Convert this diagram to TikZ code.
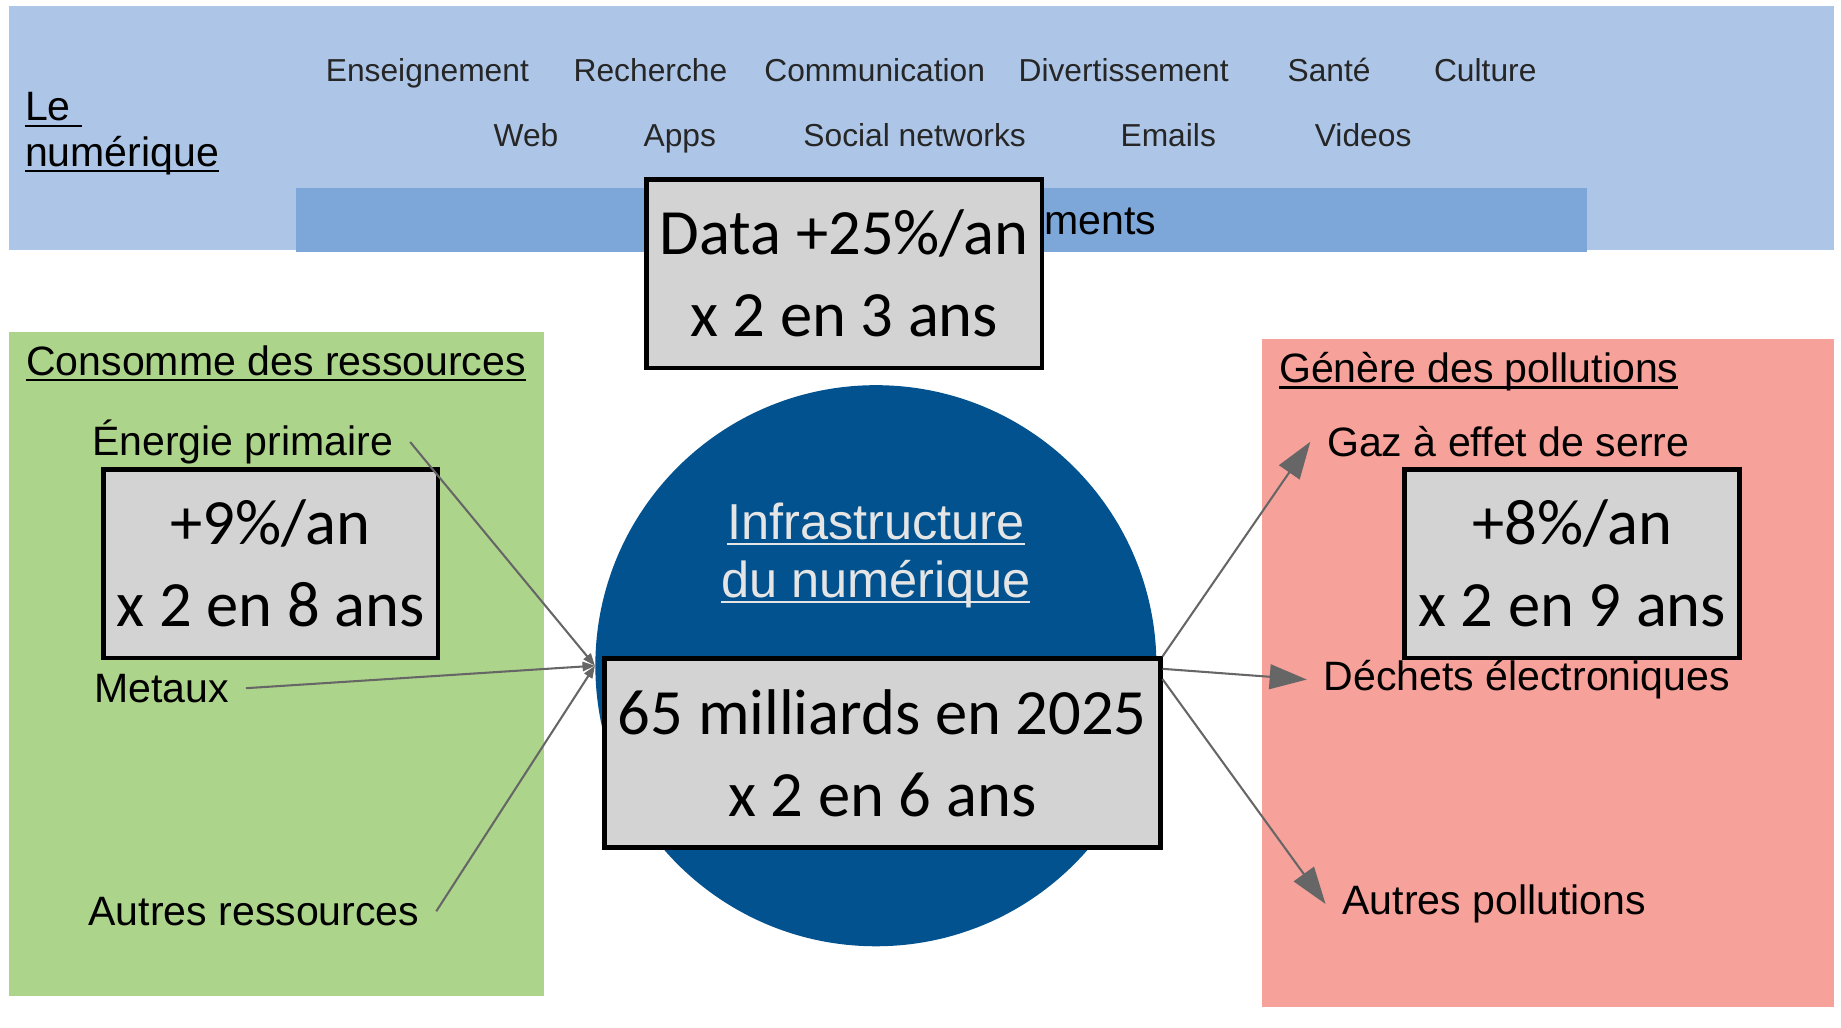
\documentclass[tikz,border=0pt]{standalone}
\usepackage{fontspec}
\setmainfont{Liberation Sans}
\newfontfamily\statfamily{Carlito}
\usepackage{tikz}
\usetikzlibrary{positioning,arrows.meta}

\definecolor{bandblue}{HTML}{ADC6E8}
\definecolor{barblue}{HTML}{7DA7D9}
\definecolor{resgreen}{HTML}{ADD48B}
\definecolor{polred}{HTML}{F6A19A}
\definecolor{infrablue}{HTML}{01528F}
\definecolor{statgray}{HTML}{D3D3D3}
\definecolor{arrowgray}{HTML}{666666}

\newcommand{\usagefont}{\fontsize{15.4}{18}\selectfont}
\newcommand{\itemfont}{\fontsize{19.9}{22.8}\selectfont}
\newcommand{\infrafont}{\fontsize{24.5}{27.9}\selectfont}
\newcommand{\statfont}{\statfamily\fontsize{31.3}{39.8}\selectfont}
% souligne, trait un peu plus epais que \underline
\newsavebox{\undlbox}
\newcommand{\undl}[1]{\sbox{\undlbox}{#1}\rlap{\rule[-2.8pt]{\wd\undlbox}{1pt}}\usebox{\undlbox}}

\begin{document}
\begin{tikzpicture}[x=0.02cm,y=-0.02cm,
    usage/.style={anchor=base,font=\usagefont,text=black!85},
    item/.style={anchor=base west,font=\itemfont,inner xsep=8pt,inner ysep=3pt},
    stat/.style={draw=black,line width=2.3pt,fill=statgray,align=center,
                 font=\statfont,inner xsep=6.5pt,minimum height=91.5pt},
    feed/.style={draw=arrowgray,line width=1pt,-{Triangle[length=6pt,width=4.5pt]}},
    emit/.style={draw=arrowgray,line width=1pt,-{Triangle[length=18pt,width=12pt]}}]

  \useasboundingbox (0,0) rectangle (1568,875);

  % bandeau : usages et services
  \fill[bandblue] (8,5) rectangle (1562,213);
  \fill[barblue] (252,160) rectangle (1352,215);
  \node[item] (le) at (7,103) {\undl{Le\ }};
  \node[item] (num) at (7,142) {\undl{numérique}};

  \node[usage] (ens)  at (364,69) {Enseignement};
  \node[usage] (rech) at (554,69) {Recherche};
  \node[usage] (comm) at (745,69) {Communication};
  \node[usage] (div)  at (957,69) {Divertissement};
  \node[usage] (sant) at (1132,69) {Santé};
  \node[usage] (cult) at (1265,69) {Culture};

  \node[usage] (web)  at (448,125) {Web};
  \node[usage] (apps) at (579,125) {Apps};
  \node[usage] (soc)  at (779,125) {Social networks};
  \node[usage] (mail) at (995,125) {Emails};
  \node[usage] (vid)  at (1161,125) {Videos};

  \node[anchor=base east,font=\itemfont,inner sep=0pt] (equip) at (985,200) {ments};

  % ressources et pollutions
  \fill[resgreen] (8,283) rectangle (463,848);
  \fill[polred] (1075,289) rectangle (1562,858);

  \node[item] (conso)   at (8,320) {\undl{Consomme des ressources}};
  \node[item] (energie) at (64,388) {Énergie primaire};
  \node[item] (metaux)  at (66,598) {Metaux};
  \node[item] (autresr) at (61,788) {Autres ressources};

  \node[item] (genere)  at (1075,326) {\undl{Génère des pollutions}};
  \node[item] (gaz)     at (1116,389) {Gaz à effet de serre};
  \node[item] (dechets) at (1113,588) {Déchets électroniques};
  \node[item] (autresp) at (1129,779) {Autres pollutions};

  % infrastructure
  \node[circle,fill=infrablue,minimum size=272pt,inner sep=0pt] (infra) at (746,567) {};
  \node[align=center,font=\infrafont,text=black!10] (infratxt) at (746,473)
       {\undl{Infrastructure}\\\undl{du numérique}};

  % chiffres
  \node[stat] (sres)  at (230.5,480) {+9\%/an\\x 2 en 8 ans};
  \node[stat] (sdata) at (719,233) {Data +25\%/an\\x 2 en 3 ans};
  \node[stat] (sparc) at (751.5,641.5) {65 milliards en 2025\\x 2 en 6 ans};
  \node[stat] (spol)  at (1339,480) {+8\%/an\\x 2 en 9 ans};

  % fleches
  \draw[feed] (energie.east) -- (infra.west);
  \draw[feed] (metaux.east) -- (infra.west);
  \draw[feed] (autresr.east) -- (infra.west);
  \draw[emit] (sparc.north east) -- (gaz.west);
  \draw[emit] ([yshift=-6pt]sparc.north east) -- (dechets.west);
  \draw[emit] ([yshift=-11pt]sparc.north east) -- (autresp.west);
\end{tikzpicture}
\end{document}
